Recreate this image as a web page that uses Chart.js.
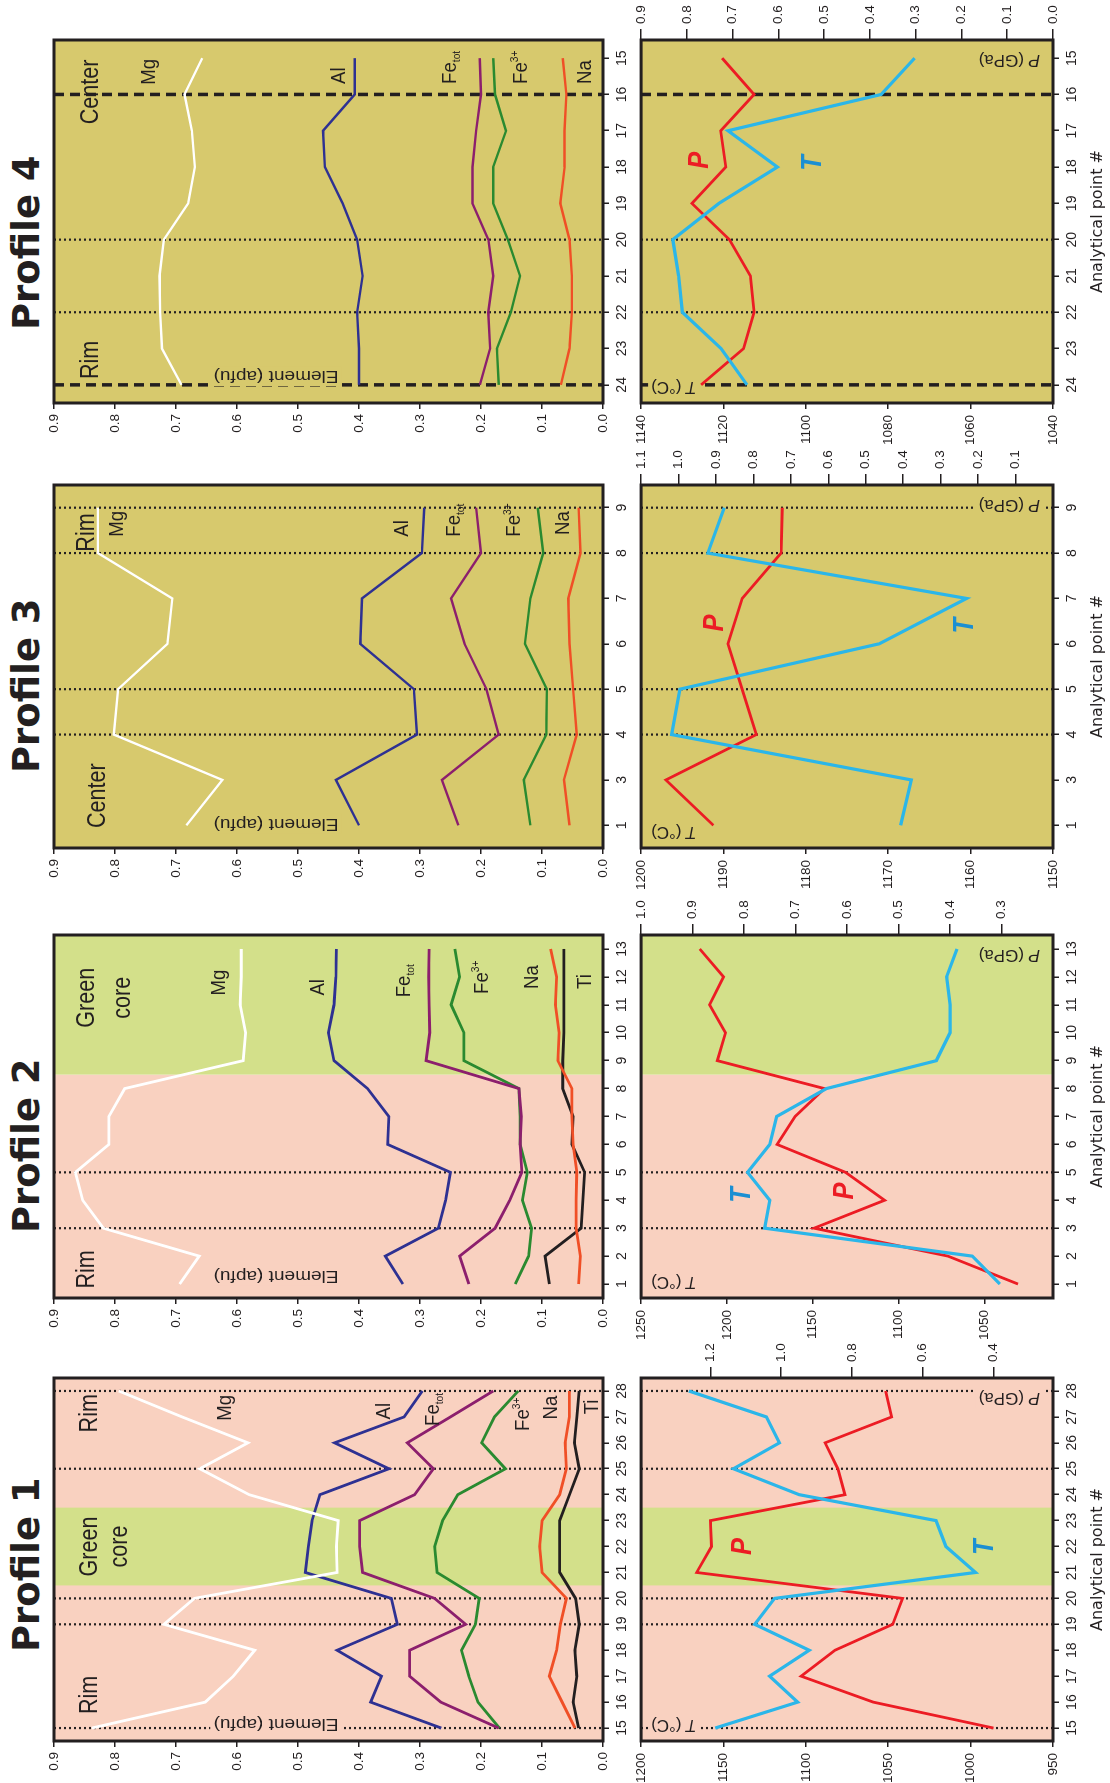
<!DOCTYPE html>
<html>
<head>
<meta charset="utf-8">
<script src="https://cdn.jsdelivr.net/npm/chart.js@4.4.1/dist/chart.umd.min.js"></script>
<style>
  html, body { margin: 0; padding: 0; background: #fff; overflow: hidden; }
  /* the figure is laid out landscape and turned a quarter turn to fit the page */
  #fig { position: absolute; left: 0; top: 0; width: 1783px; height: 1110px;
         transform-origin: 0 0; transform: translateY(1783px) rotate(-90deg); background: #fff; }
  #fig canvas { position: absolute; }
  .ttl { position: absolute; top: 8px; font: bold 37px "DejaVu Sans", sans-serif; line-height: 37px;
         color: #231f20; white-space: nowrap; }
</style>
</head>
<body>
<div id="fig"></div>
<script>
// ---------------- data ----------------
const apfuTicks = [0, 0.1, 0.2, 0.3, 0.4, 0.5, 0.6, 0.7, 0.8, 0.9];

// Profile 1
const p1Points = ['15','16','17','18','19','20','21','22','23','24','25','26','27','28'];
const p1Mg    = [0.838, 0.652, 0.606, 0.571, 0.720, 0.670, 0.436, 0.437, 0.434, 0.580, 0.661, 0.582, 0.690, 0.794];
const p1Al    = [0.265, 0.381, 0.363, 0.436, 0.337, 0.347, 0.488, 0.483, 0.477, 0.464, 0.351, 0.440, 0.326, 0.296];
const p1Fetot = [0.171, 0.266, 0.317, 0.317, 0.225, 0.276, 0.394, 0.399, 0.399, 0.309, 0.278, 0.321, 0.250, 0.180];
const p1Fe3   = [0.170, 0.205, 0.220, 0.232, 0.209, 0.203, 0.272, 0.276, 0.263, 0.238, 0.160, 0.199, 0.178, 0.139];
const p1Na    = [0.046, 0.067, 0.088, 0.076, 0.070, 0.060, 0.100, 0.104, 0.100, 0.071, 0.060, 0.062, 0.055, 0.055];
const p1Ti    = [0.040, 0.049, 0.043, 0.046, 0.039, 0.045, 0.071, 0.071, 0.071, 0.055, 0.039, 0.047, 0.043, 0.039];
const p1T     = [1155, 1105, 1122, 1098, 1131, 1119, 997, 1015, 1021, 1104, 1144, 1116, 1124, 1171];
const p1P     = [0.400, 0.740, 0.944, 0.848, 0.685, 0.657, 1.239, 1.197, 1.200, 0.820, 0.840, 0.876, 0.688, 0.705];
const p1TTicks = [950, 1000, 1050, 1100, 1150, 1200];
const p1PTicks = [0.4, 0.6, 0.8, 1.0, 1.2];

// Profile 2
const p2Points = ['1','2','3','4','5','6','7','8','9','10','11','12','13'];
const p2Mg    = [0.694, 0.662, 0.819, 0.853, 0.865, 0.810, 0.810, 0.784, 0.590, 0.586, 0.595, 0.593, 0.593];
const p2Al    = [0.328, 0.357, 0.270, 0.258, 0.250, 0.353, 0.351, 0.386, 0.441, 0.450, 0.441, 0.438, 0.437];
const p2Fetot = [0.220, 0.235, 0.177, 0.153, 0.133, 0.136, 0.134, 0.138, 0.290, 0.284, 0.285, 0.286, 0.285];
const p2Fe3   = [0.144, 0.122, 0.117, 0.132, 0.124, 0.136, 0.136, 0.138, 0.228, 0.228, 0.249, 0.235, 0.243];
const p2Na    = [0.040, 0.037, 0.044, 0.044, 0.043, 0.049, 0.051, 0.051, 0.074, 0.072, 0.078, 0.076, 0.086];
const p2Ti    = [0.088, 0.095, 0.036, 0.033, 0.030, 0.051, 0.049, 0.066, 0.066, 0.064, 0.064, 0.064, 0.064];
const p2T     = [1041, 1057, 1178, 1175, 1188, 1175, 1171, 1142, 1078, 1070, 1070, 1072, 1066];
const p2P     = [0.268, 0.404, 0.664, 0.527, 0.603, 0.736, 0.701, 0.644, 0.852, 0.836, 0.867, 0.840, 0.886];
const p2TTicks = [1050, 1100, 1150, 1200, 1250];
const p2PTicks = [0.3, 0.4, 0.5, 0.6, 0.7, 0.8, 0.9, 1.0];

// Profile 3
const p3Points = ['1','3','4','5','6','7','8','9'];
const p3Mg    = [0.683, 0.624, 0.802, 0.795, 0.714, 0.706, 0.828, 0.828];
const p3Al    = [0.400, 0.438, 0.305, 0.310, 0.398, 0.395, 0.297, 0.293];
const p3Fetot = [0.237, 0.264, 0.171, 0.191, 0.227, 0.249, 0.200, 0.208];
const p3Fe3   = [0.119, 0.130, 0.093, 0.092, 0.128, 0.119, 0.098, 0.107];
const p3Na    = [0.055, 0.064, 0.043, 0.049, 0.055, 0.057, 0.037, 0.040];
const p3T     = [1168.5, 1167.2, 1196.3, 1195.3, 1171.1, 1160.5, 1191.9, 1189.9];
const p3P     = [0.907, 1.034, 0.792, 0.830, 0.868, 0.830, 0.726, 0.723];
const p3TTicks = [1150, 1160, 1170, 1180, 1190, 1200];
const p3PTicks = [0.1, 0.2, 0.3, 0.4, 0.5, 0.6, 0.7, 0.8, 0.9, 1.0, 1.1];

// Profile 4
const p4Points = ['24','23','22','21','20','19','18','17','16','15'];
const p4Mg    = [0.691, 0.723, 0.726, 0.727, 0.720, 0.680, 0.669, 0.674, 0.686, 0.657];
const p4Al    = [0.400, 0.400, 0.403, 0.394, 0.403, 0.427, 0.456, 0.459, 0.407, 0.407];
const p4Fetot = [0.202, 0.185, 0.188, 0.180, 0.188, 0.214, 0.214, 0.208, 0.200, 0.202];
const p4Fe3   = [0.171, 0.174, 0.151, 0.136, 0.156, 0.180, 0.180, 0.159, 0.177, 0.180];
const p4Na    = [0.069, 0.055, 0.051, 0.051, 0.055, 0.070, 0.063, 0.063, 0.060, 0.066];
const p4T     = [1114.3, 1120.6, 1130.0, 1130.9, 1132.3, 1121.1, 1106.9, 1118.9, 1081.7, 1073.6];
const p4P     = [0.769, 0.676, 0.653, 0.661, 0.707, 0.789, 0.715, 0.726, 0.653, 0.723];
const p4TTicks = [1040, 1060, 1080, 1100, 1120, 1140];
const p4PTicks = [0, 0.1, 0.2, 0.3, 0.4, 0.5, 0.6, 0.7, 0.8, 0.9];

// ---------------- styling ----------------
const INK = '#231f20';
const PINK = '#f9d1c0';
const GREEN = '#d3e08a';
const KHAKI = '#d7c96d';
const LINE = { Mg: '#ffffff', Al: '#2e3192', Fetot: '#8c1f6d', Fe3: '#2a8a30', Na: '#f04f26', Ti: INK };
const T_COLOR = '#2bb6e9', P_COLOR = '#ec1c24', T_LABEL = '#1b8fd2';
const SANS = '"Liberation Sans", Arial, sans-serif';
const TICK_FONT = '"Liberation Sans", Arial, sans-serif';

// panel geometry (landscape figure coordinates)
const PW = 363;            // panel width
const TOP_Y = 54, TOP_H = 549;
const BOT_Y = 641, BOT_H = 412;

const profiles = [
  { title: 'Profile 1', left: 42, titleLeft: 131, points: p1Points,
    els: { Mg: p1Mg, Al: p1Al, Fetot: p1Fetot, Fe3: p1Fe3, Na: p1Na, Ti: p1Ti },
    T: p1T, P: p1P, tMin: 950, tMax: 1200, pMin: 0.232, pMax: 1.396, tTicks: p1TTicks, pTicks: p1PTicks,
    bands: [{ from: -0.5, to: 13.5, color: PINK }, { from: 5.5, to: 8.5, color: GREEN }],
    dotted: ['15','19','20','25','28'], dashed: [], lw: 2.8, apfuX: 0.35,
    top: [
      { k: 'zone', t: 'Rim', x: 0.54, y: 0.83 }, { k: 'zone', t: 'Rim', x: 11.4, y: 0.83 },
      { k: 'zone', t: 'Green', x: 7.0, y: 0.83, align: 'center' }, { k: 'zone', t: 'core', x: 7.0, y: 0.781, align: 'center' },
      { k: 'el', t: 'Mg', x: 11.85, y: 0.61 }, { k: 'el', t: 'Al', x: 11.9, y: 0.35 },
      { k: 'el', t: 'Fe', sub: 'tot', x: 11.65, y: 0.269 }, { k: 'el', t: 'Fe', sup: '3+', x: 11.46, y: 0.121 },
      { k: 'el', t: 'Na', x: 11.9, y: 0.075 }, { k: 'el', t: 'Ti', x: 12.1, y: 0.008 } ],
    bottom: [ { k: 'P', x: 6.67, y: 1133.5 }, { k: 'T', x: 6.67, y: 986.3 } ] },

  { title: 'Profile 2', left: 485, titleLeft: 550, points: p2Points,
    els: { Mg: p2Mg, Al: p2Al, Fetot: p2Fetot, Fe3: p2Fe3, Na: p2Na, Ti: p2Ti },
    T: p2T, P: p2P, tMin: 1010, tMax: 1250, pMin: 0.2, pMax: 1.0, tTicks: p2TTicks, pTicks: p2PTicks,
    bands: [{ from: -0.5, to: 7.5, color: PINK }, { from: 7.5, to: 12.5, color: GREEN }],
    dotted: ['3','5'], dashed: [], lw: 2.8, apfuX: 0.47,
    top: [
      { k: 'zone', t: 'Rim', x: -0.16, y: 0.834 },
      { k: 'zone', t: 'Green', x: 10.25, y: 0.834, align: 'center' }, { k: 'zone', t: 'core', x: 10.25, y: 0.776, align: 'center' },
      { k: 'el', t: 'Mg', x: 10.33, y: 0.619 }, { k: 'el', t: 'Al', x: 10.33, y: 0.458 },
      { k: 'el', t: 'Fe', sub: 'tot', x: 10.27, y: 0.316 }, { k: 'el', t: 'Fe', sup: '3+', x: 10.39, y: 0.188 },
      { k: 'el', t: 'Na', x: 10.57, y: 0.107 }, { k: 'el', t: 'Ti', x: 10.57, y: 0.02 } ],
    bottom: [ { k: 'T', x: 2.91, y: 1186.5 }, { k: 'P', x: 3.03, y: 1126.7 } ] },

  { title: 'Profile 3', left: 935, titleLeft: 1010, points: p3Points,
    els: { Mg: p3Mg, Al: p3Al, Fetot: p3Fetot, Fe3: p3Fe3, Na: p3Na },
    T: p3T, P: p3P, tMin: 1150, tMax: 1200, pMin: 0, pMax: 1.1, tTicks: p3TTicks, pTicks: p3PTicks,
    bands: [{ from: -0.5, to: 7.5, color: KHAKI }],
    dotted: ['4','5','8','9'], dashed: [], lw: 2.4, apfuX: 0.14,
    top: [
      { k: 'zone', t: 'Center', x: -0.06, y: 0.816 }, { k: 'zone', t: 'Rim', x: 6.03, y: 0.834 },
      { k: 'el', t: 'Mg', x: 6.36, y: 0.787 }, { k: 'el', t: 'Al', x: 6.36, y: 0.319 },
      { k: 'el', t: 'Fe', sub: 'tot', x: 6.36, y: 0.235 }, { k: 'el', t: 'Fe', sup: '3+', x: 6.36, y: 0.136 },
      { k: 'el', t: 'Na', x: 6.4, y: 0.055 } ],
    bottom: [ { k: 'P', x: 4.27, y: 1190.1 }, { k: 'T', x: 4.23, y: 1159.7 } ] },

  { title: 'Profile 4', left: 1380, titleLeft: 1453, points: p4Points,
    els: { Mg: p4Mg, Al: p4Al, Fetot: p4Fetot, Fe3: p4Fe3, Na: p4Na },
    T: p4T, P: p4P, tMin: 1040, tMax: 1140, pMin: 0, pMax: 0.9, tTicks: p4TTicks, pTicks: p4PTicks,
    bands: [{ from: -0.5, to: 9.5, color: KHAKI }],
    dotted: ['22','20'], dashed: ['24','16'], lw: 2.4, apfuX: 0.38,
    top: [
      { k: 'zone', t: 'Rim', x: 0.16, y: 0.828 }, { k: 'zone', t: 'Center', x: 7.18, y: 0.828 },
      { k: 'el', t: 'Mg', x: 8.27, y: 0.735 }, { k: 'el', t: 'Al', x: 8.29, y: 0.423 },
      { k: 'el', t: 'Fe', sub: 'tot', x: 8.29, y: 0.241 }, { k: 'el', t: 'Fe', sup: '3+', x: 8.29, y: 0.124 },
      { k: 'el', t: 'Na', x: 8.29, y: 0.02 } ],
    bottom: [ { k: 'P', x: 5.95, y: 1123.7 }, { k: 'T', x: 5.9, y: 1096.3 } ] }
];

// ---------------- drawing helpers ----------------
const fig = document.getElementById('fig');

function makeCanvas(x, y, w, h) {
  const c = document.createElement('canvas');
  c.width = w; c.height = h;
  c.style.left = x + 'px'; c.style.top = y + 'px';
  c.style.width = w + 'px'; c.style.height = h + 'px';
  fig.appendChild(c);
  return c;
}

// draws a run of text pieces (main text plus optional sub/superscript)
function richText(ctx, x, y, parts, o) {
  ctx.save();
  ctx.translate(x, y);
  if (o.rot) ctx.rotate(o.rot);
  ctx.scale(o.sx || 1, 1);
  ctx.textBaseline = 'alphabetic';
  ctx.textAlign = 'left';
  let w = 0;
  const widths = parts.map(p => { ctx.font = p.font; const m = ctx.measureText(p.t).width; w += m; return m; });
  let x0 = o.align === 'center' ? -w / 2 : (o.align === 'right' ? -w : 0);
  if (o.mask) {
    ctx.fillStyle = o.mask;
    ctx.fillRect(x0 - 3, -o.asc, w + 6, o.asc + o.desc);
  }
  ctx.fillStyle = o.color || INK;
  parts.forEach((p, i) => { ctx.font = p.font; ctx.fillText(p.t, x0, p.dy || 0); x0 += widths[i]; });
  ctx.restore();
}

function bandColorAt(p, idx) {
  let c = p.bands[0].color;
  for (const b of p.bands) if (idx >= b.from && idx <= b.to) c = b.color;
  return c;
}

function vline(ctx, x, a, width, dash) {
  ctx.beginPath();
  ctx.lineWidth = width;
  ctx.setLineDash(dash);
  ctx.strokeStyle = INK;
  ctx.moveTo(x, a.top);
  ctx.lineTo(x, a.bottom);
  ctx.stroke();
}

function decoration(p, which) {
  return {
    id: 'panelDecoration',
    beforeDatasetsDraw(chart) {
      const { ctx, chartArea: a, scales } = chart;
      const xs = scales.x, ys = scales.y;
      ctx.save();
      for (const b of p.bands) {
        const x0 = Math.max(a.left, xs.getPixelForValue(b.from));
        const x1 = Math.min(a.right, xs.getPixelForValue(b.to));
        ctx.fillStyle = b.color;
        ctx.fillRect(x0, a.top, x1 - x0, a.bottom - a.top);
      }
      for (const g of p.dotted) vline(ctx, xs.getPixelForValue(p.points.indexOf(g)), a, 2.2, [2, 3]);
      for (const g of p.dashed) vline(ctx, xs.getPixelForValue(p.points.indexOf(g)), a, 3.5, [10, 6]);
      ctx.setLineDash([]);
      if (which === 'top') {
        richText(ctx, xs.getPixelForValue(p.apfuX), ys.getPixelForValue(0.536),
          [{ t: 'Element (apfu)', font: '17px ' + SANS }],
          { rot: -Math.PI / 2, sx: 1.12, align: 'center', mask: bandColorAt(p, p.apfuX), asc: 15, desc: 5 });
      } else {
        richText(ctx, a.left + 21, a.top + 10,
          [{ t: 'T', font: 'italic 17px ' + SANS }, { t: ' (°C)', font: '17px ' + SANS }],
          { rot: -Math.PI / 2, align: 'right', mask: bandColorAt(p, 0), asc: 15, desc: 5 });
        richText(ctx, a.right - 15, a.bottom - 13,
          [{ t: 'P', font: 'italic 17px ' + SANS }, { t: ' (GPa)', font: '17px ' + SANS }],
          { rot: -Math.PI / 2, align: 'left', mask: bandColorAt(p, p.points.length - 1), asc: 15, desc: 5 });
      }
      ctx.restore();
    },
    afterDatasetsDraw(chart) {
      const { ctx, chartArea: a, scales } = chart;
      const xs = scales.x, ys = scales.y;
      ctx.save();
      const list = which === 'top' ? p.top : p.bottom;
      for (const l of list) {
        const X = xs.getPixelForValue(l.x), Y = ys.getPixelForValue(l.y);
        if (l.k === 'zone') {
          richText(ctx, X, Y, [{ t: l.t, font: '26px ' + SANS }], { sx: 0.83, align: l.align });
        } else if (l.k === 'el') {
          const parts = [{ t: l.t, font: '20px ' + SANS }];
          if (l.sub) parts.push({ t: l.sub, font: '11px ' + SANS, dy: 4 });
          if (l.sup) parts.push({ t: l.sup, font: '11px ' + SANS, dy: -9 });
          richText(ctx, X, Y, parts, { sx: 0.93 });
        } else {
          richText(ctx, X, Y, [{ t: l.k, font: 'italic bold 30px ' + SANS }],
            { sx: 0.85, color: l.k === 'P' ? P_COLOR : T_LABEL });
        }
      }
      ctx.lineWidth = 3;
      ctx.strokeStyle = INK;
      ctx.setLineDash([]);
      ctx.strokeRect(a.left, a.top, a.right - a.left, a.bottom - a.top);
      ctx.restore();
    }
  };
}

function categoryAxis(height, withTitle) {
  const ax = {
    type: 'category', offset: true,
    grid: { offset: false, drawOnChartArea: false, drawTicks: true, tickLength: 6, color: INK, lineWidth: 1.5 },
    border: { display: false },
    ticks: { font: { family: TICK_FONT, size: 14 }, color: INK, padding: 5, maxRotation: 0, autoSkip: false },
    afterFit: s => { s.height = height; }
  };
  if (withTitle) ax.title = { display: true, text: 'Analytical point #', color: INK,
    font: { family: 'DejaVu Sans', size: 16 }, padding: { top: 0, bottom: 3 } };
  return ax;
}

function valueAxis(pos, min, max, ticks, digits, width, tickLen, pad) {
  return {
    type: 'linear', position: pos, min: min, max: max,
    afterBuildTicks: s => { s.ticks = ticks.map(v => ({ value: v })); },
    afterFit: s => { s.width = width; },
    grid: { drawOnChartArea: false, drawTicks: true, tickLength: tickLen, color: INK, lineWidth: 1.5 },
    border: { display: false },
    ticks: { font: { family: TICK_FONT, size: 13.5 }, color: INK, padding: pad,
             callback: v => Number(v).toFixed(digits) }
  };
}

const baseOptions = () => ({
  responsive: false, animation: false, devicePixelRatio: 1,
  plugins: { legend: { display: false }, tooltip: { enabled: false } },
  elements: { point: { radius: 0 }, line: { tension: 0 } }
});

function topPanel(p) {
  const cv = makeCanvas(p.left - 60, TOP_Y - 14, PW + 74, TOP_H + 50);
  const keys = ['Mg', 'Al', 'Fetot', 'Fe3', 'Na', 'Ti'].filter(k => p.els[k]);
  const opts = baseOptions();
  opts.layout = { padding: { top: 14, right: 14, left: 0, bottom: 0 } };
  opts.scales = {
    x: categoryAxis(36, false),
    y: valueAxis('left', 0, 0.9, apfuTicks, 1, 60, 6, 5)
  };
  new Chart(cv, {
    type: 'line',
    data: { labels: p.points,
      datasets: keys.map(k => ({ label: k, data: p.els[k], borderColor: LINE[k], borderWidth: p.lw,
        pointRadius: 0, fill: false })) },
    options: opts,
    plugins: [decoration(p, 'top')]
  });
}

function bottomPanel(p) {
  const cv = makeCanvas(p.left - 60, BOT_Y - 14, PW + 115, BOT_H + 71);
  const opts = baseOptions();
  opts.layout = { padding: { top: 14, right: 0, left: 0, bottom: 0 } };
  opts.scales = {
    x: categoryAxis(57, true),
    y: valueAxis('left', p.tMin, p.tMax, p.tTicks, 0, 60, 6, 6),
    yP: valueAxis('right', p.pMin, p.pMax, p.pTicks, 1, 55, 11, 5)
  };
  new Chart(cv, {
    type: 'line',
    data: { labels: p.points,
      datasets: [
        { label: 'T', data: p.T, yAxisID: 'y', borderColor: T_COLOR, borderWidth: 3.2, pointRadius: 0, fill: false },
        { label: 'P', data: p.P, yAxisID: 'yP', borderColor: P_COLOR, borderWidth: 2.8, pointRadius: 0, fill: false }
      ] },
    options: opts,
    plugins: [decoration(p, 'bottom')]
  });
}

for (const p of profiles) {
  const t = document.createElement('div');
  t.className = 'ttl';
  t.style.left = p.titleLeft + 'px';
  t.textContent = p.title;
  fig.appendChild(t);
  topPanel(p);
  bottomPanel(p);
}
</script>
</body>
</html>
